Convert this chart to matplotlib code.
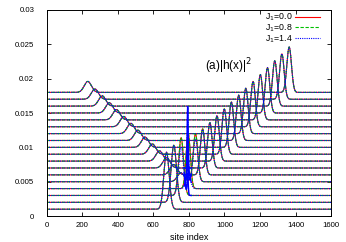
import numpy as np
import matplotlib.pyplot as plt

plt.rcParams['font.family'] = ['Liberation Sans', 'DejaVu Sans']

# one trace per time step, stacked by a vertical offset
offsets = [0.001, 0.002, 0.003, 0.004, 0.005, 0.006, 0.007, 0.008, 0.009,
           0.010, 0.011, 0.012, 0.013, 0.014, 0.015, 0.016, 0.017, 0.018]

# forward-moving packet (incoming, then transmitted)
fwd_pos = [674, 715, 756, 796, 837, 877, 918, 958, 999,
           1039, 1080, 1120, 1161, 1202, 1242, 1283, 1323, 1364]
fwd_amp = [0.0083, 0.0083, 0.0084, 0.0080, 0.0070, 0.0067, 0.0066, 0.0066, 0.0066,
           0.0066, 0.0066, 0.0066, 0.0066, 0.0066, 0.0066, 0.0066, 0.0066, 0.0066]
fwd_wid = [15, 15, 14, 12, 13, 13, 13, 13, 13,
           13, 13, 13, 13, 13, 13, 13, 13, 13]
# J1=1.4: part of the packet sits in the impurity spike near step 4
fwd_amp_j14 = [0.0083, 0.0083, 0.0070, 0.0025, 0.0062, 0.0066, 0.0066, 0.0066, 0.0066,
               0.0066, 0.0066, 0.0066, 0.0066, 0.0066, 0.0066, 0.0066, 0.0066, 0.0066]

# reflected packet
refl_pos = [0, 0, 0, 0, 755, 714, 674, 634, 594,
            553, 513, 473, 433, 392, 352, 312, 271, 231]
refl_amp = [0, 0, 0, 0, 0.0013, 0.0015, 0.0015, 0.0015, 0.0015,
            0.0015, 0.0015, 0.0015, 0.0015, 0.0015, 0.0015, 0.0015, 0.0015, 0.0016]
refl_wid = [20, 20, 20, 20, 20, 20, 20, 20, 20,
            20, 20, 20, 20, 20, 20, 20, 20, 20]

# localized spike at the impurity (J1=1.4 only)
spike_pos = 793
spike_amp = [0, 0, 0.0030, 0.0095, 0.0050, 0.0018, 0.0008, 0, 0,
             0, 0, 0, 0, 0, 0, 0, 0, 0]
spike_wid = 3

labels = ["J$_1$=0.0", "J$_1$=0.8", "J$_1$=1.4"]
colors = ["#ff0000", "#00c000", "#0000ff"]
styles = ["-", (0, (3, 1.5)), (0, (1, 1))]

sites = np.arange(0, 1601)


def profile(k, j14):
    amp = fwd_amp_j14[k] if j14 else fwd_amp[k]
    y = np.full(sites.shape, offsets[k], dtype=float)
    y += amp * np.exp(-0.5 * ((sites - fwd_pos[k]) / fwd_wid[k]) ** 2)
    if refl_amp[k] > 0:
        y += refl_amp[k] * np.exp(-0.5 * ((sites - refl_pos[k]) / refl_wid[k]) ** 2)
    if j14 and spike_amp[k] > 0:
        y += spike_amp[k] * np.exp(-0.5 * ((sites - spike_pos) / spike_wid) ** 2)
    return y


fig = plt.figure(figsize=(3.46, 2.42), dpi=100)
ax = fig.add_axes([0.135, 0.107, 0.822, 0.852])

for s in range(3):
    for k in range(len(offsets)):
        ax.plot(sites, profile(k, s == 2), color=colors[s], linestyle=styles[s],
                linewidth=0.8, label=labels[s] if k == 0 else None)

# near the impurity the J1=1.4 curves are so steep they render as solid
near = (sites > 772) & (sites < 814)
for k in range(len(offsets)):
    if spike_amp[k] > 0:
        ax.plot(sites[near], profile(k, True)[near], color=colors[2],
                linewidth=1.0)

ax.text(890, 0.0212, "(a)|h(x)|$^2$", fontsize=8.5)

ax.set_xlim(0, 1600)
ax.set_ylim(0, 0.03)
ax.set_xticks(np.arange(0, 1601, 200))
ax.set_yticks([0, 0.005, 0.01, 0.015, 0.02, 0.025, 0.03])
ax.set_yticklabels(["0", "0.005", "0.01", "0.015", "0.02", "0.025", "0.03"])
ax.tick_params(direction="in", top=True, right=True, length=3, width=0.6,
               labelsize=5.6)
ax.tick_params(axis="y", pad=9)
ax.tick_params(axis="x", pad=4)
for sp in ax.spines.values():
    sp.set_linewidth(0.7)
ax.set_xlabel("site index", fontsize=6.5, labelpad=3)

ax.legend(loc="upper right", bbox_to_anchor=(0.985, 1.025), frameon=False,
          markerfirst=False, fontsize=6.3, handlelength=2.8, handletextpad=0.35,
          labelspacing=-0.1, borderpad=0.3)

fig.savefig("out.png", dpi=100)
